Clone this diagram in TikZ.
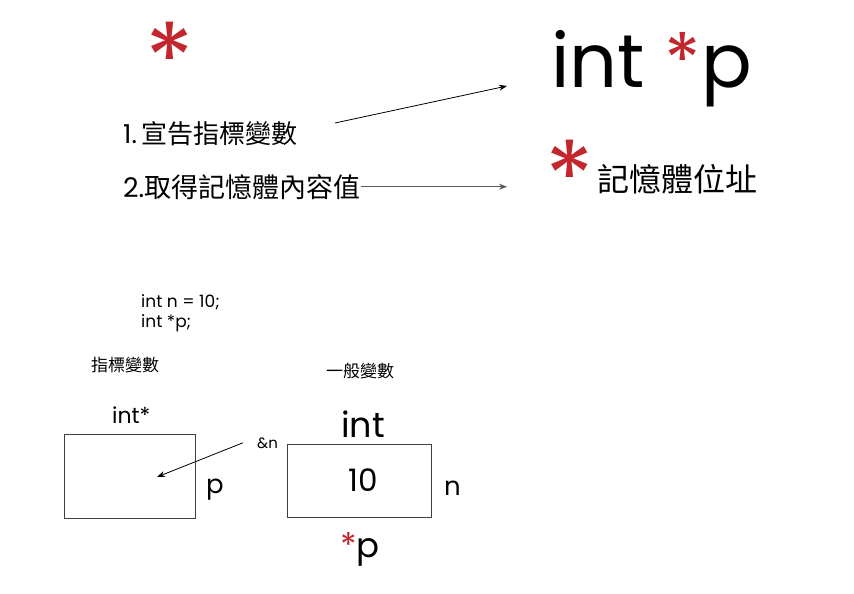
\documentclass[tikz,border=0pt]{standalone}
\usepackage{fontspec}
\setmainfont{Poppins}
\newfontfamily\cjk{Noto Sans CJK TC}
\usetikzlibrary{arrows.meta}
\definecolor{starred}{HTML}{C1272D}
\newcommand{\fs}[1]{\fontsize{#1}{#1}\selectfont}
\tikzset{
	txt/.style={inner sep=0pt, anchor=base west},
	bigstar/.style={inner sep=0pt, anchor=north, text=starred, font=\fs{100}},
	cell/.style={draw=black!75, line width=0.9pt, inner sep=0pt},
	ptr/.style={-{Stealth[length=8pt,width=6pt]}, line width=0.8pt},
}

\begin{document}
\begin{tikzpicture}[x=1pt,y=-1pt]
	\useasboundingbox (0,0) rectangle (854,594);
	\node[bigstar] (star1) at (169.5,22) {*};
	\node[bigstar] (star2) at (570,140) {*};
	\node[txt, font=\fs{26}] (decl) at (123,143) {1.\hspace{5pt}{\cjk 宣告指標變數}};
	\node[txt, font=\fs{27}] (fetch) at (123,197) {2.{\cjk 取得記憶體內容值}};
	\node[txt, font=\fs{75}] (intp) at (551,88) {int \textcolor{starred}{*}p};
	\node[txt, font=\fs{32}\cjk] (addr) at (597,191) {記憶體位址};
	\coordinate (decl-out) at (335,123);
	\coordinate (decl-in) at (507,86);
	\coordinate (fetch-in) at (507,187);
	\draw[ptr] (decl-out) -- (decl-in);
	\draw[ptr, black!65] (fetch.east) -- (fetch.east -| fetch-in);

	\node[txt, font=\fs{17}] (code1) at (141,307) {int n = 10;};
	\node[txt, font=\fs{17}] (code2) at (141,327) {int *p;};
	\node[txt, font=\fs{17}\cjk] (ptrlbl) at (91,371) {指標變數};
	\node[txt, font=\fs{17}\cjk] (varlbl) at (326,377) {一般變數};
	\node[txt, font=\fs{22}] (ptrtype) at (112,423) {int*};
	\node[txt, font=\fs{35}] (vartype) at (341,437) {int};
	\node[cell, minimum width=131pt, minimum height=84pt] (boxp) at (129.5,476) {};
	\node[cell, minimum width=144pt, minimum height=73pt] (boxn) at (359,480.5) {};
	\node[font=\fs{31}, inner sep=0pt] (nval) at ([xshift=4pt]boxn.center) {10};
	\node[txt, font=\fs{26}] (pname) at (206,493) {p};
	\node[txt, font=\fs{26}] (nname) at (444,495) {n};
	\node[txt, font=\fs{15}] (amp) at (257,448) {\&n};
	\node[txt, font=\fs{34}] (deref) at (340,557) {\textcolor{starred}{*}p};
	\coordinate (ptrtip) at (157,477);
	\draw[ptr] ([xshift=-14pt]amp.west) -- (ptrtip);
\end{tikzpicture}
\end{document}
